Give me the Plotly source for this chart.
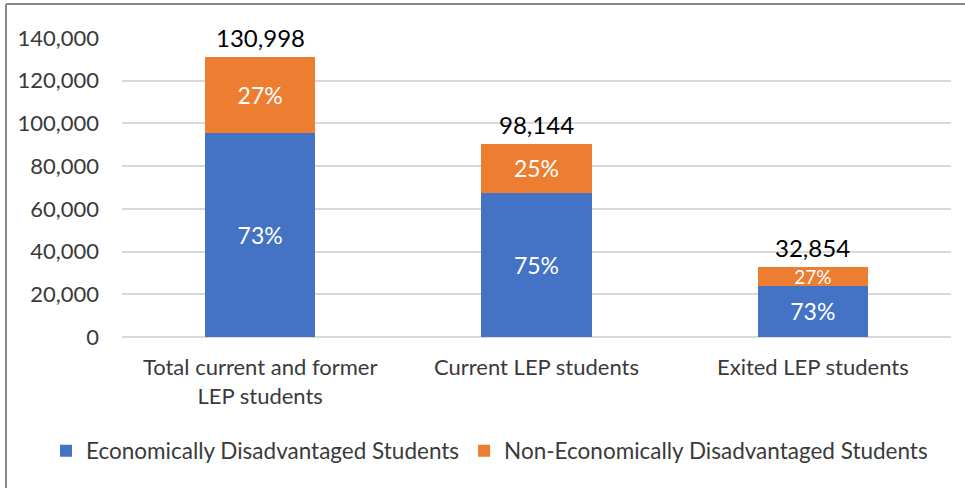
import plotly.graph_objects as go

categories = ["Total current and former<br>LEP students", "Current LEP students", "Exited LEP students"]
econ_values = [95500, 67600, 24000]
non_econ_values = [35500, 22800, 9000]
econ_pct = ["73%", "75%", "73%"]
non_econ_pct = ["27%", "25%", "27%"]
total_labels = ["130,998", "98,144", "32,854"]

BLUE = "#4472C4"
ORANGE = "#ED7D31"
FONT = "Lato"
TXT = "#3a3a3a"

fig = go.Figure()
fig.add_trace(go.Bar(
    x=categories, y=econ_values, name="Economically Disadvantaged Students",
    marker=dict(color=BLUE, line=dict(width=0)),
    text=econ_pct, textposition="inside", insidetextanchor="middle", constraintext="none",
    textfont=dict(color="white", size=23, family=FONT), hoverinfo="skip",
))
fig.add_trace(go.Bar(
    x=categories, y=non_econ_values, name="Non-Economically Disadvantaged Students",
    marker=dict(color=ORANGE, line=dict(width=0)),
    text=non_econ_pct, textposition="inside", insidetextanchor="middle", constraintext="none",
    textfont=dict(color="white", size=[23, 23, 19], family=FONT), hoverinfo="skip",
))

for cat, e, n, lab in zip(categories, econ_values, non_econ_values, total_labels):
    fig.add_annotation(x=cat, y=e + n, text=lab, showarrow=False,
                       yanchor="bottom", yshift=3,
                       font=dict(size=24, color="black", family=FONT))

fig.update_layout(
    width=965, height=488,
    margin=dict(l=122, r=14, t=38, b=151, autoexpand=False),
    barmode="stack", bargap=0.6,
    plot_bgcolor="white", paper_bgcolor="white",
    font=dict(family=FONT, color=TXT, size=22),
    showlegend=True,
    legend=dict(orientation="h", xref="paper", x=(46 - 122) / 829, xanchor="left",
                yref="paper", y=(337 - 451) / 299, yanchor="middle",
                font=dict(size=22.5, color=TXT, family=FONT), traceorder="normal",
                itemwidth=30, tracegroupgap=0),
    xaxis=dict(showline=False, ticks="", tickfont=dict(size=22, color=TXT),
               ticklabelstandoff=15),
    yaxis=dict(range=[0, 140000], dtick=20000, tickformat=",", showgrid=True,
               gridcolor="#D9D9D9", gridwidth=1.5, zeroline=True, zerolinecolor="#D9D9D9",
               zerolinewidth=1.5, ticks="", tickfont=dict(size=22, color=TXT),
               ticklabelstandoff=22),
    shapes=[
        dict(type="line", xref="paper", yref="paper",
             x0=(6 - 122) / 829, x1=(6 - 122) / 829, y0=1 + 34 / 299, y1=-151 / 299,
             line=dict(color="#8a8a8a", width=2)),
        dict(type="line", xref="paper", yref="paper",
             x0=(6 - 122) / 829, x1=843 / 829, y0=1 + 34 / 299, y1=1 + 34 / 299,
             line=dict(color="#8a8a8a", width=2)),
    ],
)

fig.write_html("out.html", config={"displayModeBar": False},
               post_script="document.body.style.margin='0';document.body.style.overflow='hidden';")
